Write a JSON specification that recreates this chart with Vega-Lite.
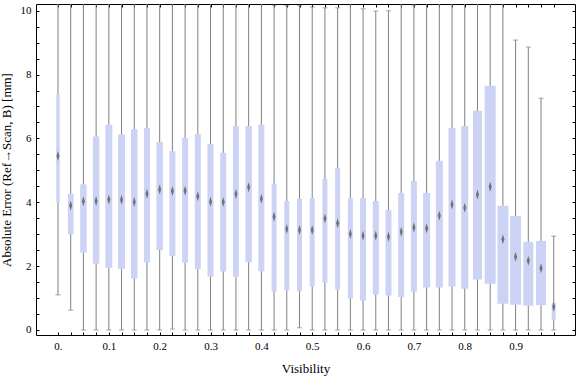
{
  "$schema": "https://vega.github.io/schema/vega-lite/v6.json",
  "width": 539,
  "height": 331,
  "autosize": "none",
  "padding": {"left": 36, "top": 4, "right": 1, "bottom": 42},
  "background": "white",
  "config": {
    "view": {"stroke": "black", "strokeWidth": 1},
    "axis": {
      "labelFont": "Liberation Serif",
      "titleFont": "Liberation Serif",
      "labelFontSize": 11,
      "titleFontSize": 13,
      "titleFontWeight": "normal",
      "labelColor": "black",
      "titleColor": "black",
      "domain": false,
      "grid": false,
      "tickColor": "black",
      "tickWidth": 1
    }
  },
  "data": {
    "values": [
      {"vis": 0.000, "min": 1.10, "q1": 4.00, "med": 5.45, "q3": 7.38, "max": 10.6, "n": 35},
      {"vis": 0.025, "min": 0.62, "q1": 3.00, "med": 3.90, "q3": 4.27, "max": 10.6, "n": 57},
      {"vis": 0.050, "min": 0.00, "q1": 2.42, "med": 4.03, "q3": 4.56, "max": 10.6, "n": 65},
      {"vis": 0.075, "min": 0.00, "q1": 2.08, "med": 4.04, "q3": 6.06, "max": 10.6, "n": 65},
      {"vis": 0.100, "min": 0.00, "q1": 1.95, "med": 4.09, "q3": 6.43, "max": 10.6, "n": 70},
      {"vis": 0.125, "min": 0.00, "q1": 1.92, "med": 4.08, "q3": 6.12, "max": 10.6, "n": 70},
      {"vis": 0.150, "min": 0.00, "q1": 1.61, "med": 4.01, "q3": 6.29, "max": 10.6, "n": 65},
      {"vis": 0.175, "min": 0.00, "q1": 2.11, "med": 4.27, "q3": 6.33, "max": 10.6, "n": 60},
      {"vis": 0.200, "min": 0.00, "q1": 2.50, "med": 4.40, "q3": 5.89, "max": 10.6, "n": 65},
      {"vis": 0.225, "min": 0.03, "q1": 2.32, "med": 4.35, "q3": 5.60, "max": 10.6, "n": 60},
      {"vis": 0.250, "min": 0.00, "q1": 2.11, "med": 4.36, "q3": 6.02, "max": 10.6, "n": 60},
      {"vis": 0.275, "min": 0.00, "q1": 1.91, "med": 4.19, "q3": 6.14, "max": 10.6, "n": 60},
      {"vis": 0.300, "min": 0.00, "q1": 1.67, "med": 4.02, "q3": 5.83, "max": 10.6, "n": 60},
      {"vis": 0.325, "min": 0.00, "q1": 1.83, "med": 4.01, "q3": 5.55, "max": 10.6, "n": 60},
      {"vis": 0.350, "min": 0.00, "q1": 1.67, "med": 4.26, "q3": 6.39, "max": 10.6, "n": 60},
      {"vis": 0.375, "min": 0.00, "q1": 2.12, "med": 4.47, "q3": 6.39, "max": 10.6, "n": 65},
      {"vis": 0.400, "min": 0.00, "q1": 1.84, "med": 4.11, "q3": 6.43, "max": 10.6, "n": 60},
      {"vis": 0.425, "min": 0.00, "q1": 1.20, "med": 3.55, "q3": 4.58, "max": 10.17, "n": 50},
      {"vis": 0.450, "min": 0.00, "q1": 1.24, "med": 3.16, "q3": 4.04, "max": 10.16, "n": 50},
      {"vis": 0.475, "min": 0.07, "q1": 1.21, "med": 3.13, "q3": 4.11, "max": 10.16, "n": 50},
      {"vis": 0.500, "min": 0.00, "q1": 1.36, "med": 3.13, "q3": 4.13, "max": 10.12, "n": 50},
      {"vis": 0.525, "min": 0.00, "q1": 1.48, "med": 3.49, "q3": 4.73, "max": 10.09, "n": 50},
      {"vis": 0.550, "min": 0.00, "q1": 1.26, "med": 3.34, "q3": 5.08, "max": 10.09, "n": 50},
      {"vis": 0.575, "min": 0.00, "q1": 0.98, "med": 3.01, "q3": 4.13, "max": 10.3, "n": 50},
      {"vis": 0.600, "min": 0.00, "q1": 0.92, "med": 2.95, "q3": 4.13, "max": 10.06, "n": 60},
      {"vis": 0.625, "min": 0.00, "q1": 1.11, "med": 2.95, "q3": 4.04, "max": 9.99, "n": 60},
      {"vis": 0.650, "min": 0.00, "q1": 1.08, "med": 2.92, "q3": 3.76, "max": 10.0, "n": 60},
      {"vis": 0.675, "min": 0.00, "q1": 1.03, "med": 3.08, "q3": 4.29, "max": 10.3, "n": 60},
      {"vis": 0.700, "min": 0.00, "q1": 1.20, "med": 3.21, "q3": 4.67, "max": 10.18, "n": 60},
      {"vis": 0.725, "min": 0.00, "q1": 1.33, "med": 3.19, "q3": 4.29, "max": 10.6, "n": 70},
      {"vis": 0.750, "min": 0.00, "q1": 1.33, "med": 3.58, "q3": 5.30, "max": 10.3, "n": 70},
      {"vis": 0.775, "min": 0.00, "q1": 1.36, "med": 3.93, "q3": 6.33, "max": 10.6, "n": 70},
      {"vis": 0.800, "min": 0.00, "q1": 1.29, "med": 3.83, "q3": 6.39, "max": 10.6, "n": 70},
      {"vis": 0.825, "min": 0.00, "q1": 1.58, "med": 4.24, "q3": 6.87, "max": 10.6, "n": 90},
      {"vis": 0.850, "min": 0.00, "q1": 1.45, "med": 4.49, "q3": 7.65, "max": 10.3, "n": 110},
      {"vis": 0.875, "min": 0.00, "q1": 0.82, "med": 2.84, "q3": 3.89, "max": 10.6, "n": 110},
      {"vis": 0.900, "min": 0.00, "q1": 0.79, "med": 2.29, "q3": 3.57, "max": 9.08, "n": 110},
      {"vis": 0.925, "min": 0.00, "q1": 0.76, "med": 2.17, "q3": 2.76, "max": 8.86, "n": 100},
      {"vis": 0.950, "min": 0.00, "q1": 0.78, "med": 1.93, "q3": 2.79, "max": 7.26, "n": 100},
      {"vis": 0.975, "min": 0.00, "q1": 0.32, "med": 0.73, "q3": 0.85, "max": 2.94, "n": 40}
    ]
  },
  "resolve": {"axis": {"x": "independent", "y": "independent"}},
  "layer": [
    {
      "mark": {"type": "rule", "color": "#808080", "strokeWidth": 1, "clip": true},
      "encoding": {
        "x": {"field": "vis", "type": "quantitative",
              "scale": {"domain": [-0.0334, 1.007], "nice": false, "zero": false},
              "axis": {"orient": "bottom", "title": "Visibility", "titlePadding": 11,
                       "values": [0,0.025,0.05,0.075,0.1,0.125,0.15,0.175,0.2,0.225,0.25,0.275,0.3,0.325,0.35,0.375,0.4,0.425,0.45,0.475,0.5,0.525,0.55,0.575,0.6,0.625,0.65,0.675,0.7,0.725,0.75,0.775,0.8,0.825,0.85,0.875,0.9,0.925,0.95,0.975],
                       "tickSize": -3, "labelPadding": 8,
                       "labelExpr": "abs(datum.value*10 - round(datum.value*10)) < 0.001 ? (datum.value == 0 ? '0.' : format(datum.value, '.1f')) : ''",
                       "labelFlush": false, "labelOverlap": false}},
        "y": {"field": "min", "type": "quantitative",
              "scale": {"domain": [-0.157, 10.21], "nice": false, "zero": false},
              "axis": {"orient": "left", "title": "Absolute Error (Ref\u2192Scan, B) [mm]", "titlePadding": 7,
                       "values": [0,0.5,1,1.5,2,2.5,3,3.5,4,4.5,5,5.5,6,6.5,7,7.5,8,8.5,9,9.5,10],
                       "tickSize": -3, "labelPadding": 8,
                       "labelExpr": "datum.value % 2 == 0 ? format(datum.value, 'd') : ''",
                       "labelOverlap": false, "labelFlush": false}},
        "y2": {"field": "max"}
      }
    },
    {
      "mark": {"type": "tick", "orient": "horizontal", "color": "#808080", "thickness": 1, "size": 5, "clip": true},
      "encoding": {
        "x": {"field": "vis", "type": "quantitative",
              "axis": {"orient": "top", "title": null, "labels": false, "tickSize": -3,
                       "values": [0,0.025,0.05,0.075,0.1,0.125,0.15,0.175,0.2,0.225,0.25,0.275,0.3,0.325,0.35,0.375,0.4,0.425,0.45,0.475,0.5,0.525,0.55,0.575,0.6,0.625,0.65,0.675,0.7,0.725,0.75,0.775,0.8,0.825,0.85,0.875,0.9,0.925,0.95,0.975]}},
        "y": {"field": "min", "type": "quantitative",
              "axis": {"orient": "right", "title": null, "labels": false, "tickSize": -3,
                       "values": [0,0.5,1,1.5,2,2.5,3,3.5,4,4.5,5,5.5,6,6.5,7,7.5,8,8.5,9,9.5,10]}}
      }
    },
    {
      "mark": {"type": "tick", "orient": "horizontal", "color": "#808080", "thickness": 1, "size": 5, "clip": true},
      "encoding": {
        "x": {"field": "vis", "type": "quantitative", "axis": null},
        "y": {"field": "max", "type": "quantitative", "axis": null}
      }
    },
    {
      "mark": {"type": "bar", "color": "#cdd3f5", "opacity": 1},
      "encoding": {
        "x": {"field": "vis", "type": "quantitative", "axis": null},
        "y": {"field": "q1", "type": "quantitative", "axis": null},
        "y2": {"field": "q3"},
        "size": {"field": "n", "type": "quantitative", "legend": null,
                 "scale": {"type": "linear", "domain": [0, 110], "range": [0, 11], "zero": true}}
      }
    },
    {
      "mark": {"type": "point", "filled": true, "color": "#727272", "opacity": 1,
               "shape": "M0,-1L0.3,0L0,1L-0.3,0Z", "size": 100},
      "encoding": {
        "x": {"field": "vis", "type": "quantitative", "axis": null},
        "y": {"field": "med", "type": "quantitative", "axis": null}
      }
    }
  ]
}
